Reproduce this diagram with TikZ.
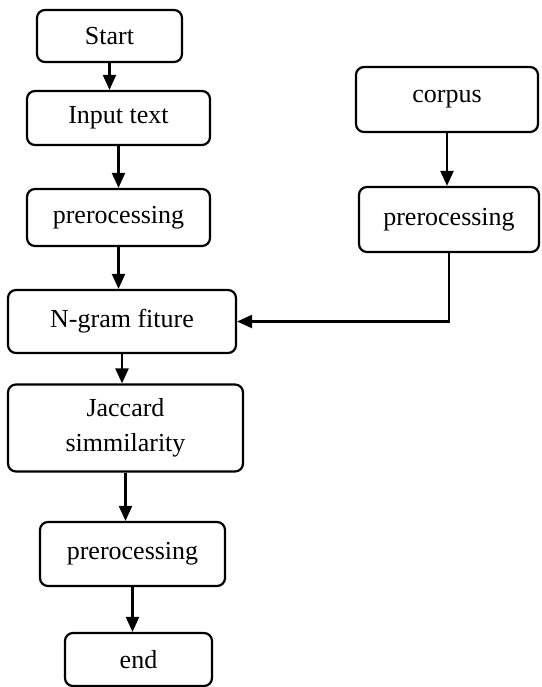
\documentclass[tikz,border=0pt]{standalone}
\usepackage{fontspec}
\setmainfont{Liberation Serif}
\usetikzlibrary{arrows.meta,positioning}
\tikzset{
box/.style={draw, rounded corners=8pt, line width=2.2pt, inner sep=0pt, align=center,
  font=\fontsize{26}{35}\selectfont},
arr/.style={-{Triangle[length=15pt,width=13pt]}, line width=2.2pt},
}

\begin{document}
\begin{tikzpicture}[x=1pt,y=-1pt]
        \useasboundingbox (0,0) rectangle (541,687);

        % main column
        \node[box, minimum width=145pt, minimum height=52pt] (start) at (109.5,36) {Start};
        \node[box, minimum width=183pt, minimum height=54pt] (input) at (118.5,118) {Input text};
        \node[box, minimum width=183pt, minimum height=57pt] (prep1) at (118.5,217.5) {prerocessing};
        \node[box, minimum width=228pt, minimum height=63pt] (ngram) at (122,321.5) {N-gram fiture};
        \node[box, minimum width=235pt, minimum height=87pt] (jacc) at (125.5,428) {Jaccard\\simmilarity};
        \node[box, minimum width=185pt, minimum height=64pt] (prep3) at (132.5,554) {prerocessing};
        \node[box, minimum width=147pt, minimum height=53pt] (end) at (138.5,659.5) {end};

        % corpus branch
        \node[box, minimum width=182pt, minimum height=65pt] (corpus) at (447,99.5) {corpus};
        \node[box, minimum width=180pt, minimum height=65pt] (prep2) at (449,219.5) {prerocessing};

        \draw[arr] (start.south) -- (start.south |- input.north);
        \draw[arr] (input.south) -- (input.south |- prep1.north);
        \draw[arr] (prep1.south) -- (prep1.south |- ngram.north);
        \draw[arr] (ngram.south) -- (ngram.south |- jacc.north);
        \draw[arr] (jacc.south) -- (jacc.south |- prep3.north);
        \draw[arr] (prep3.south) -- (prep3.south |- end.north);

        \draw[arr] (corpus.south) -- (corpus.south |- prep2.north);
        \draw[arr] (prep2.south) |- (ngram.east);
    \end{tikzpicture}
\end{document}
